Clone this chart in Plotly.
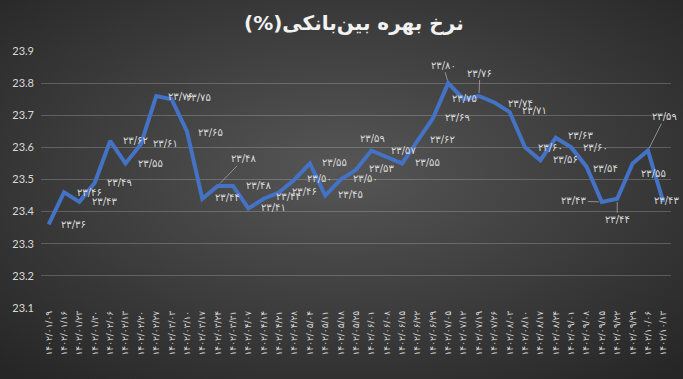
import base64
import plotly.graph_objects as go

# ---------------- data ----------------
dates = [
    "۱۴۰۲/۰۱/۰۹", "۱۴۰۲/۰۱/۱۶", "۱۴۰۲/۰۱/۲۳", "۱۴۰۲/۰۱/۳۰",
    "۱۴۰۲/۰۲/۰۶", "۱۴۰۲/۰۲/۱۳", "۱۴۰۲/۰۲/۲۰", "۱۴۰۲/۰۲/۲۷",
    "۱۴۰۲/۰۳/۰۳", "۱۴۰۲/۰۳/۱۰", "۱۴۰۲/۰۳/۱۷", "۱۴۰۲/۰۳/۲۴", "۱۴۰۲/۰۳/۳۱",
    "۱۴۰۲/۰۴/۰۷", "۱۴۰۲/۰۴/۱۴", "۱۴۰۲/۰۴/۲۱", "۱۴۰۲/۰۴/۲۸",
    "۱۴۰۲/۰۵/۰۴", "۱۴۰۲/۰۵/۱۱", "۱۴۰۲/۰۵/۱۸", "۱۴۰۲/۰۵/۲۵",
    "۱۴۰۲/۰۶/۰۱", "۱۴۰۲/۰۶/۰۸", "۱۴۰۲/۰۶/۱۵", "۱۴۰۲/۰۶/۲۲", "۱۴۰۲/۰۶/۲۹",
    "۱۴۰۲/۰۷/۰۵", "۱۴۰۲/۰۷/۱۲", "۱۴۰۲/۰۷/۱۹", "۱۴۰۲/۰۷/۲۶",
    "۱۴۰۲/۰۸/۰۳", "۱۴۰۲/۰۸/۱۰", "۱۴۰۲/۰۸/۱۷", "۱۴۰۲/۰۸/۲۴",
    "۱۴۰۲/۰۹/۰۱", "۱۴۰۲/۰۹/۰۸", "۱۴۰۲/۰۹/۱۵", "۱۴۰۲/۰۹/۲۲", "۱۴۰۲/۰۹/۲۹",
    "۱۴۰۲/۱۰/۰۶", "۱۴۰۲/۱۰/۱۳",
]

rates = [
    23.36, 23.46, 23.43, 23.49, 23.62, 23.55, 23.61, 23.76, 23.75, 23.65,
    23.44, 23.48, 23.48, 23.41, 23.44, 23.46, 23.50, 23.55, 23.45, 23.50,
    23.53, 23.59, 23.57, 23.55, 23.62, 23.69, 23.80, 23.75, 23.76, 23.74,
    23.71, 23.60, 23.56, 23.63, 23.60, 23.54, 23.43, 23.44, 23.55, 23.59,
    23.43,
]

y_ticks = [23.1, 23.2, 23.3, 23.4, 23.5, 23.6, 23.7, 23.8, 23.9]
title_text = "نرخ بهره بین‌بانکی(%)\u200f"

# label placement (pixel offsets: dx right, dy down, leader line flag)
label_offsets = [
    (25, 0, 0), (25, 0, 0), (25, 0, 0), (25, 0, 0), (25, 0, 0),
    (25, 0, 0), (25, -1, 0), (24, 0, 0), (27, -2, 0), (24, 1, 0),
    (25, -1, 0), (26, -27, 1), (25, 0, 0), (25, -1, 0), (25, -2, 0),
    (25, -1, 0), (25, -1, 0), (25, -1, 0), (25, -1, 0), (25, -1, 0),
    (25, -1, 0), (1, -12, 0), (17, -7, 0), (25, -1, 0), (25, -1, 0),
    (25, -1, 0), (-5, -18, 1), (1, -1, 0), (1, -23, 1), (26, 1, 0),
    (25, -2, 0), (25, 0, 0), (25, -1, 0), (25, -2, 0), (24, 0, 0),
    (19, 2, 0), (-28, -1, 1), (0, 21, 1), (21, 10, 0), (17, -34, 1),
    (3, -1, 0),
]

PERSIAN = str.maketrans("0123456789.", "۰۱۲۳۴۵۶۷۸۹/")


def fa(v):
    return f"{v:.2f}".translate(PERSIAN)


# ---------------- background (radial gradient) ----------------
W, H = 683, 379
svg = (
    f'<svg xmlns="http://www.w3.org/2000/svg" width="{W}" height="{H}">'
    '<defs><radialGradient id="g" cx="50%" cy="45%" r="72%">'
    '<stop offset="0" stop-color="#565656"/>'
    '<stop offset="1" stop-color="#262626"/>'
    '</radialGradient></defs>'
    f'<rect width="{W}" height="{H}" fill="url(#g)"/></svg>'
)
bg_uri = "data:image/svg+xml;base64," + base64.b64encode(svg.encode()).decode()

ML, MR, MT, MB = 41, 12, 51, 71
PW, PH = W - ML - MR, H - MT - MB

fig = go.Figure()
fig.add_trace(
    go.Scatter(
        x=dates,
        y=rates,
        mode="lines",
        line=dict(color="#4472C4", width=4),
        hoverinfo="x+y",
    )
)

annotations = []
for d, v, (dx, dy, lead) in zip(dates, rates, label_offsets):
    base = dict(
        x=d, y=v, xref="x", yref="y", text=fa(v),
        font=dict(family="DejaVu Sans", size=10, color="#d9d9d9"),
    )
    if lead:
        base.update(showarrow=True, ax=dx, ay=dy, arrowhead=0,
                    arrowwidth=0.8, arrowcolor="#a6a6a6", standoff=3)
    else:
        base.update(showarrow=False, xshift=dx, yshift=-dy)
    annotations.append(base)

# title as a centred annotation in page coordinates
annotations.append(dict(
    text=title_text, xref="paper", yref="paper",
    x=(W / 2 + 12 - ML) / PW, y=1 + (MT - 23) / PH,
    xanchor="center", yanchor="middle", showarrow=False,
    font=dict(family="DejaVu Sans", size=20, color="#f2f2f2", weight="bold"),
))

fig.update_layout(
    width=W,
    height=H,
    margin=dict(l=ML, r=MR, t=MT, b=MB),
    paper_bgcolor="#3a3a3a",
    plot_bgcolor="rgba(0,0,0,0)",
    showlegend=False,
    images=[dict(
        source=bg_uri, xref="paper", yref="paper",
        x=-ML / PW, y=1 + MT / PH, sizex=W / PW, sizey=H / PH,
        xanchor="left", yanchor="top", sizing="stretch", layer="below",
    )],
    annotations=annotations,
    xaxis=dict(
        type="category",
        range=[-0.5, len(dates) - 0.5],
        showgrid=False, zeroline=False, showline=False, ticks="",
        tickangle=-90,
        tickfont=dict(family="DejaVu Sans", size=9, color="#d9d9d9"),
    ),
    yaxis=dict(
        range=[23.0999, 23.9001],
        tickvals=y_ticks,
        ticktext=[f"{t:.1f}" for t in y_ticks],
        showgrid=True, gridcolor="rgba(255,255,255,0.2)", gridwidth=1,
        zeroline=False, showline=False, ticks="",
        ticklabelstandoff=6,
        tickfont=dict(family="Lato", size=11, color="#d9d9d9"),
    ),
)

fig.write_html("out.html")
